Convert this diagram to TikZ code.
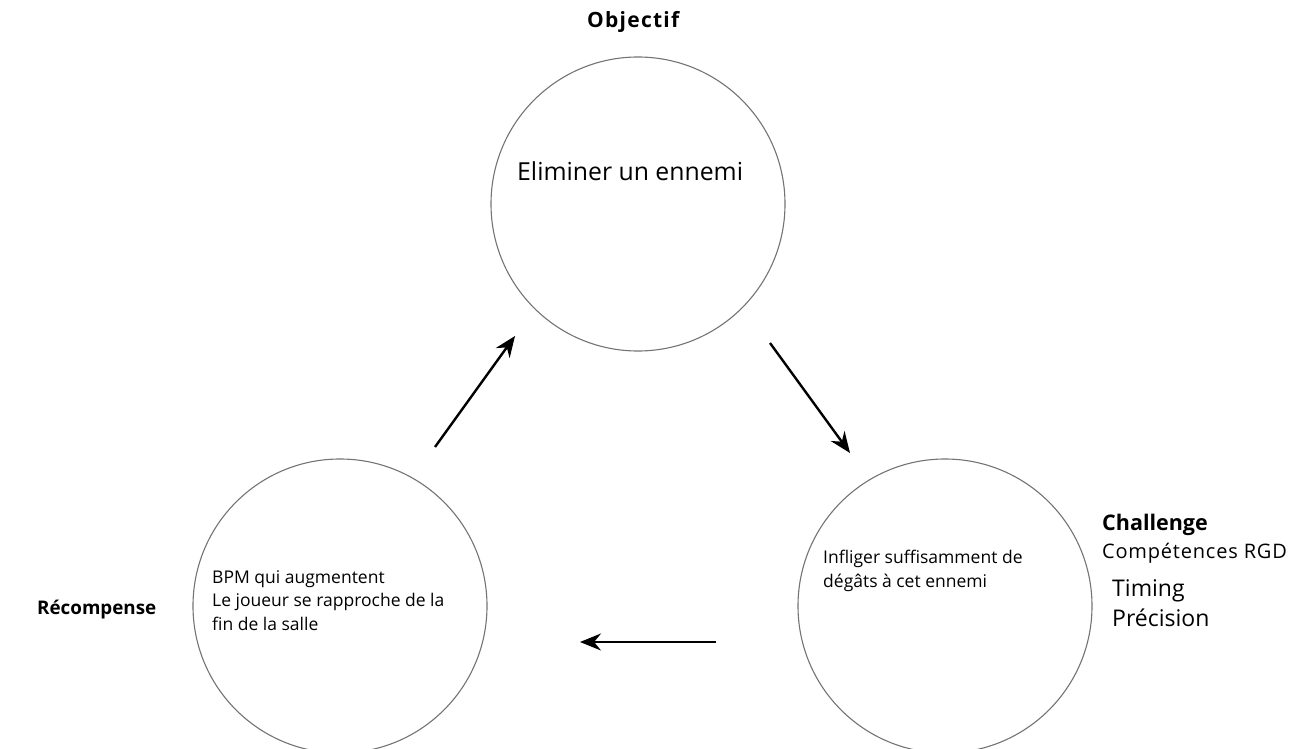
\documentclass[tikz,border=0pt]{standalone}
\usepackage{fontspec}
\setmainfont{Open Sans}
\usetikzlibrary{arrows.meta}
\begin{document}
\begin{tikzpicture}[x=1pt,y=-1pt,
  phase/.style={circle,draw=black!55,line width=1.1pt,minimum size=294pt,inner sep=0pt},
  flow/.style={line width=2.4pt,-{Stealth[length=21pt,width=17pt,inset=7pt]}},
  title/.style={anchor=base west,font=\bfseries\fontsize{20}{24}\selectfont,inner sep=0pt},
  body/.style={anchor=base west,inner sep=0pt,align=left,font=\fontsize{17.5}{23.5}\selectfont},
  big/.style={anchor=base west,inner sep=0pt,font=\fontsize{23}{30}\selectfont}]
\useasboundingbox (0,0) rectangle (1293,749);

% the three phases of the loop
\node[phase] (objectif) at (638,204) {};
\node[phase] (challenge) at (945,606) {};
\node[phase] (recompense) at (340,606) {};

% headings
\node[title,font={\addfontfeatures{LetterSpace=6}\bfseries\fontsize{21}{24}\selectfont}] (tobj) at (587,28) {Objectif};
\node[title,font=\bfseries\fontsize{18.8}{24}\selectfont] (trec) at (37,614) {Récompense};
\node[title,font=\bfseries\fontsize{21.5}{24}\selectfont] (tcha) at (1102,530) {Challenge};
\node[anchor=base west,inner sep=0pt,font={\addfontfeatures{LetterSpace=4}\fontsize{20}{24}\selectfont}] (tcomp) at (1102,558) {Compétences RGD};
\node[big] (ttim) at (1112,596) {Timing};
\node[big] (tpre) at (1112,626) {Précision};

% contents of the circles
\node[big,font=\fontsize{24.8}{30}\selectfont] (cobj) at (517,180) {Eliminer un ennemi};
\node[body] (ccha) at (823,587) {Infliger suffisamment de\\dégâts à cet ennemi};
\node[body] (crec) at (212,630) {BPM qui augmentent\\Le joueur se rapproche de la\\fin de la salle};

% arrows between the phases
\coordinate (a1s) at (435,447);
\coordinate (a1e) at (515,336);
\coordinate (a2s) at (770,343);
\coordinate (a2e) at (850,453);
\coordinate (a3s) at (716,642);
\coordinate (a3e) at (580,642);
\draw[flow] (a1s) -- (a1e);
\draw[flow] (a2s) -- (a2e);
\draw[flow] (a3s) -- (a3e);
\end{tikzpicture}
\end{document}
